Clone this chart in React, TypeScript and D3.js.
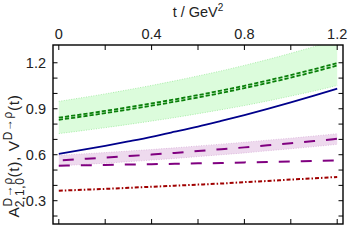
import React from 'react'
import * as d3 from 'd3'

// t grid (GeV^2) and the curves
const tVals = [0, 0.1, 0.2, 0.3, 0.4, 0.5, 0.6, 0.7, 0.8, 0.9, 1.0, 1.1, 1.2]

const vUpper = [0.842, 0.863, 0.886, 0.910, 0.935, 0.961, 0.989, 1.019, 1.050, 1.084, 1.120, 1.158, 1.198]
const vLower = [0.828, 0.849, 0.872, 0.895, 0.920, 0.946, 0.974, 1.003, 1.035, 1.068, 1.103, 1.141, 1.182]
const vBandHi = [0.948, 0.972, 0.997, 1.024, 1.052, 1.082, 1.114, 1.147, 1.183, 1.221, 1.262, 1.305, 1.351]
const vBandLo = [0.738, 0.757, 0.777, 0.798, 0.820, 0.843, 0.868, 0.894, 0.921, 0.951, 0.983, 1.016, 1.052]

const a0 = [0.606, 0.631, 0.658, 0.687, 0.717, 0.750, 0.784, 0.821, 0.859, 0.899, 0.941, 0.985, 1.031]

const a1 = [0.563, 0.572, 0.581, 0.591, 0.601, 0.612, 0.624, 0.636, 0.648, 0.662, 0.675, 0.689, 0.704]
const a1BandHi = [0.596, 0.605, 0.614, 0.624, 0.634, 0.645, 0.657, 0.669, 0.681, 0.695, 0.708, 0.722, 0.737]
const a1BandLo = [0.527, 0.536, 0.545, 0.555, 0.565, 0.576, 0.588, 0.600, 0.612, 0.626, 0.639, 0.653, 0.668]

const a2 = [0.528, 0.531, 0.533, 0.536, 0.538, 0.541, 0.544, 0.546, 0.550, 0.553, 0.556, 0.560, 0.563]

const a3 = [0.365, 0.371, 0.377, 0.384, 0.391, 0.398, 0.405, 0.412, 0.421, 0.429, 0.438, 0.446, 0.455]

const xTicks = [0, 0.2, 0.4, 0.6, 0.8, 1.0, 1.2]
const xLabels = [0, 0.4, 0.8, 1.2]
const yTicks = [0.2, 0.3, 0.4, 0.5, 0.6, 0.7, 0.8, 0.9, 1.0, 1.1, 1.2]
const yLabels = [0.3, 0.6, 0.9, 1.2]

const W = 349
const H = 246
const L = 53, R = 343, T = 45, B = 224
const font = '"Liberation Sans", Arial, sans-serif'

export default function App() {
  const x = d3.scaleLinear().domain([-0.025, 1.225]).range([L, R])
  const y = d3.scaleLinear().domain([0.148, 1.316]).range([B, T])

  const line = (vals: number[]) =>
    d3.line<number>().x((_, i) => x(tVals[i])).y(d => y(d)).curve(d3.curveMonotoneX)(vals) || ''
  const band = (lo: number[], hi: number[]) =>
    d3.area<number>()
      .x((_, i) => x(tVals[i]))
      .y0((_, i) => y(lo[i]))
      .y1((_, i) => y(hi[i]))
      .curve(d3.curveMonotoneX)(tVals) || ''

  const fmt = (v: number) => (v === 0 ? '0' : d3.format('.1f')(v))

  return (
    <svg width={W} height={H} style={{ position: 'absolute', left: 0, top: 0 }} fontFamily={font}>
      <defs>
        <clipPath id="plot">
          <rect x={L} y={T} width={R - L} height={B - T} />
        </clipPath>
      </defs>
      <rect width={W} height={H} fill="#fff" />

      <g clipPath="url(#plot)">
        {/* green band */}
        <path d={band(vBandLo, vBandHi)} fill="#dcfcdc" />
        <path d={line(vBandHi)} fill="none" stroke="#9be89b" strokeWidth={0.8} strokeDasharray="1,1.5" />
        <path d={line(vBandLo)} fill="none" stroke="#9be89b" strokeWidth={0.8} strokeDasharray="1,1.5" />
        {/* purple band */}
        <path d={band(a1BandLo, a1BandHi)} fill="#eedaee" />
        <path d={line(a1BandHi)} fill="none" stroke="#d9b3d9" strokeWidth={0.8} strokeDasharray="1,1.5" />
        <path d={line(a1BandLo)} fill="none" stroke="#d9b3d9" strokeWidth={0.8} strokeDasharray="1,1.5" />

        <path d={line(a3)} fill="none" stroke="#a00000" strokeWidth={2} strokeDasharray="4,2,1.5,2" />
        <path d={line(a2)} fill="none" stroke="#800080" strokeWidth={2} strokeDasharray="11,11" />
        <path d={line(a1)} fill="none" stroke="#800080" strokeWidth={2} strokeDasharray="11,11" strokeDashoffset={-4} />
        <path d={line(a0)} fill="none" stroke="#00008b" strokeWidth={1.8} />
        <path d={line(vLower)} fill="none" stroke="#0a7f0a" strokeWidth={1.8} strokeDasharray="4.2,2" />
        <path d={line(vUpper)} fill="none" stroke="#0a7f0a" strokeWidth={1.8} strokeDasharray="4.2,2" />
      </g>

      {/* ticks */}
      <g stroke="#000" strokeWidth={1}>
        {xTicks.map(t => (
          <g key={'x' + t}>
            <line x1={x(t)} x2={x(t)} y1={T} y2={T + 5} />
            <line x1={x(t)} x2={x(t)} y1={B} y2={B - 5} />
          </g>
        ))}
        {yTicks.map(v => (
          <g key={'y' + v}>
            <line x1={L} x2={L + 4.5} y1={y(v)} y2={y(v)} />
            <line x1={R} x2={R - 4.5} y1={y(v)} y2={y(v)} />
          </g>
        ))}
      </g>
      <rect x={L} y={T} width={R - L} height={B - T} fill="none" stroke="#000" strokeWidth={1.4} />

      {/* tick labels */}
      {xLabels.map(t => (
        <text key={'xl' + t} x={x(t)} y={39} fontSize={14.5} textAnchor="middle" fill="#222">{fmt(t)}</text>
      ))}
      {yLabels.map(v => (
        <text key={'yl' + v} x={46} y={y(v) + 5} fontSize={14.5} textAnchor="end" fill="#222">{fmt(v)}</text>
      ))}

      {/* axis titles */}
      <text x={(L + R) / 2} y={17} fontSize={14.5} textAnchor="middle" fill="#222">
        t / GeV<tspan fontSize={10} dy={-6}>2</tspan>
      </text>
      <text transform="translate(19,156) rotate(-90)" fontSize={15.5} textAnchor="middle" fill="#222" letterSpacing={0.6}>
        A
        <tspan fontSize={12} dy={-7.5}>D→ρ</tspan>
        <tspan fontSize={12} dx={-30} dy={12}>2,1,0</tspan>
        <tspan dy={-4.5}>(t), V</tspan>
        <tspan fontSize={12} dy={-7.5}>D→ρ</tspan>
        <tspan dy={7.5}>(t)</tspan>
      </text>
    </svg>
  )
}
